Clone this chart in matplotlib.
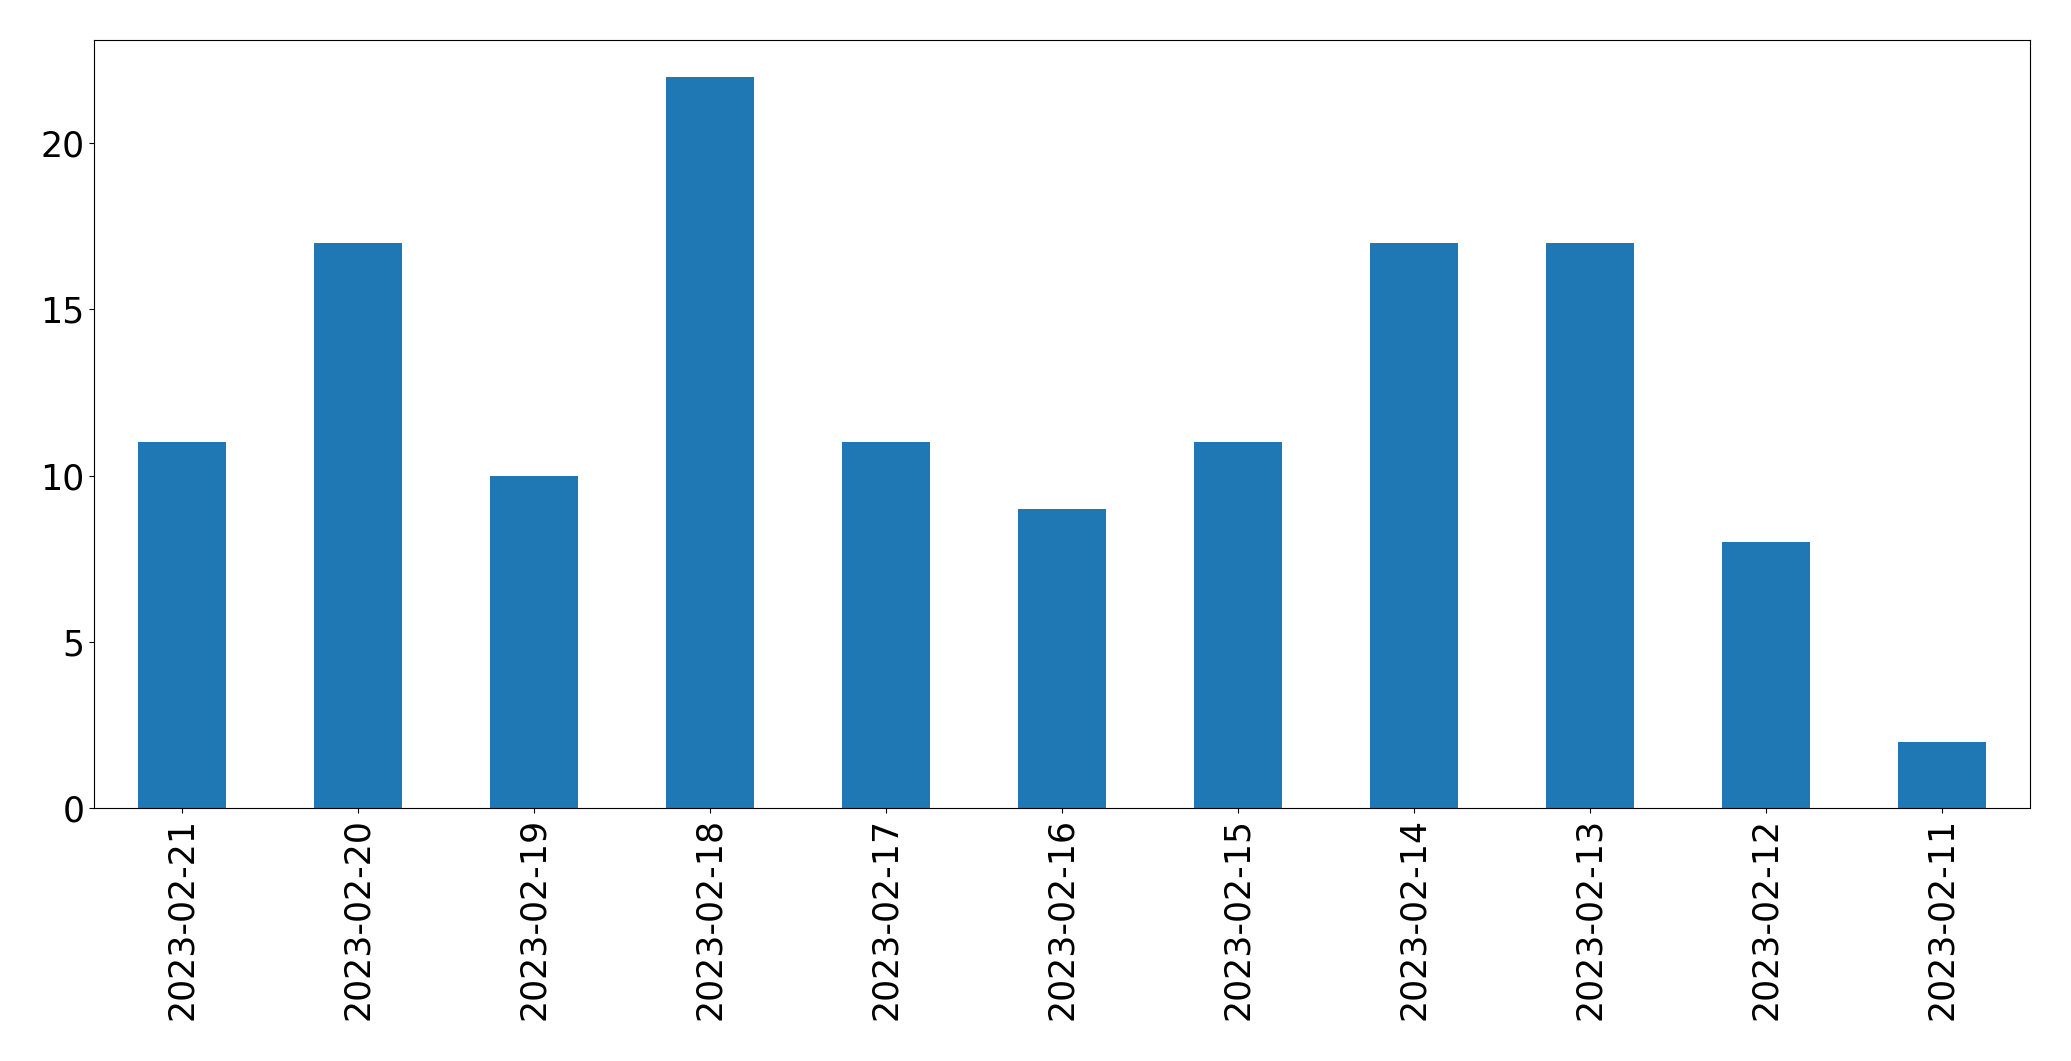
import matplotlib
matplotlib.use("Agg")
import matplotlib.pyplot as plt
import pandas as pd

dates = ["2023-02-21", "2023-02-20", "2023-02-19", "2023-02-18", "2023-02-17",
         "2023-02-16", "2023-02-15", "2023-02-14", "2023-02-13", "2023-02-12",
         "2023-02-11"]
counts = [11, 17, 10, 22, 11, 9, 11, 17, 17, 8, 2]

s = pd.Series(counts, index=dates)

fig = plt.figure(figsize=(20.71, 10.61), dpi=100)
ax = fig.add_axes([94 / 2071, 1 - 808 / 1061, (2030 - 94) / 2071, (808 - 40) / 1061])
s.plot(kind="bar", ax=ax, fontsize=25)
ax.tick_params(labelsize=25)

fig.savefig("out.png", dpi=100)
